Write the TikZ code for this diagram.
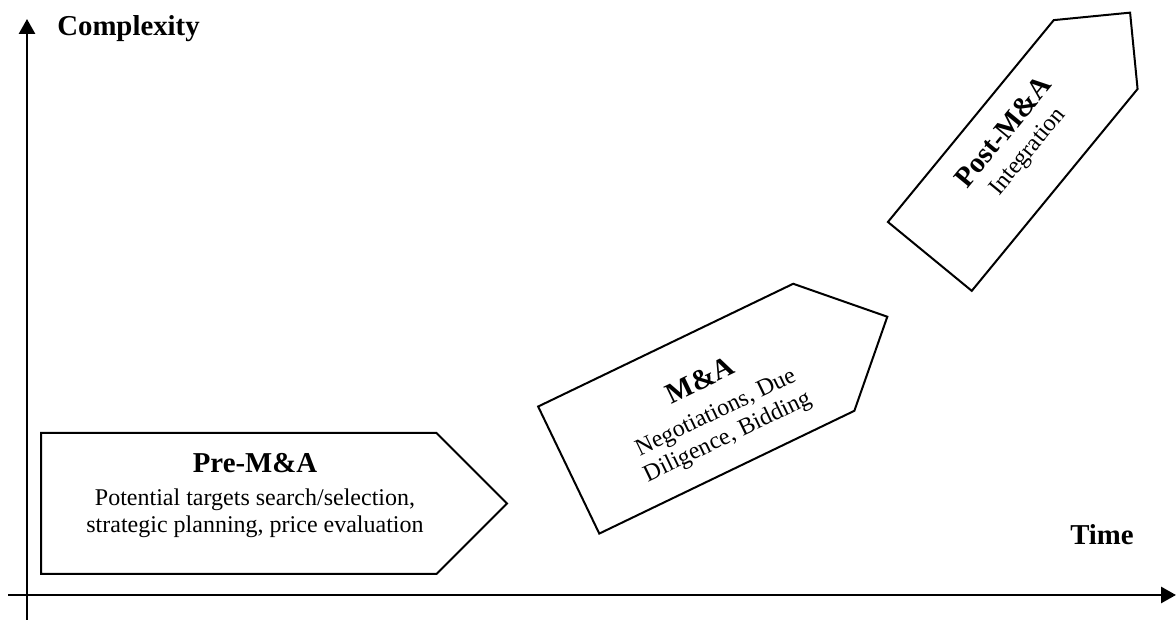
\documentclass[tikz,border=0pt,12pt]{standalone}
\usepackage{fontspec}
\setmainfont{Liberation Serif}
\usetikzlibrary{arrows.meta, shapes.symbols}

\tikzset{
    axis/.style={line width=1.4pt, -{Triangle[length=7.5pt, width=8pt]}},
    phase/.style={draw, line width=1pt, shape=signal, signal to=east, signal pointer angle=90, inner sep=0pt, anchor=west},
    phasetext/.style={align=center, inner sep=0pt, font=\fontsize{12}{13.5}\selectfont},
    axislabel/.style={inner sep=0pt, anchor=base, font=\fontsize{14.4}{16}\selectfont\bfseries},
}

\begin{document}
\begin{tikzpicture}[x=0.5pt, y=0.5pt]
    \useasboundingbox (0,0) rectangle (1176,624);
    % axes
    \coordinate (ybottom) at (27,4);
    \coordinate (ytop) at (27,605);
    \coordinate (xleft) at (8,29);
    \coordinate (xright) at (1176,29);
    \draw[axis] (ybottom) -- (ytop);
    \draw[axis] (xleft) -- (xright);
    \node[axislabel] (ylabel) at (128.5,588) {Complexity};
    \node[axislabel] (xlabel) at (1102,79) {Time};

    % Pre-M&A
    \node[phase, minimum width=233pt, minimum height=70.5pt] (pre) at (40,120.5) {};
    \node[phasetext] (pretext) at (255,128.2) {{\fontsize{14.4}{16}\selectfont\bfseries Pre-M\&A}\\[3pt]Potential targets search/selection,\\strategic planning, price evaluation};

    % M&A
    \begin{scope}[shift={(567.8,153.5)}, rotate=25.7, transform shape]
        \node[phase, minimum width=176.8pt, minimum height=70.5pt] (ma) at (0,0) {};
        \node[phasetext] (matext) at (158.4,-8.3) {{\fontsize{14.4}{16}\selectfont\bfseries M\&A}\\[3pt]Negotiations, Due\\Diligence, Bidding};
    \end{scope}

    % Post-M&A
    \begin{scope}[shift={(929.2,366.8)}, rotate=50.6, transform shape]
        \node[phase, minimum width=157.75pt, minimum height=54.25pt] (post) at (0,0) {};
        \node[phasetext] (posttext) at (144,6) {{\fontsize{14.4}{16}\selectfont\bfseries Post-M\&A}\\[1pt]Integration};
    \end{scope}
\end{tikzpicture}
\end{document}
